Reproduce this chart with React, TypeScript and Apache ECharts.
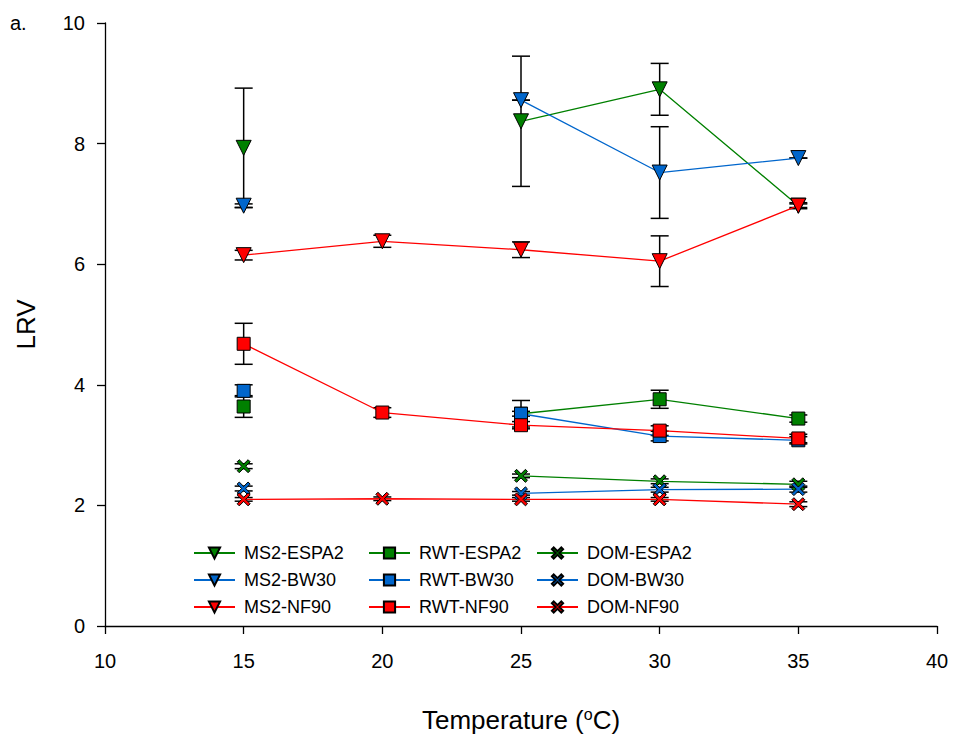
import React, { useEffect, useRef } from "react";
import * as echarts from "echarts";

const temps = [15, 20, 25, 30, 35];
const ms2Espa2 = [7.93, null, 8.37, 8.9, 6.97];
const ms2Espa2Err = [0.99, null, 1.08, 0.43, 0.03];
const ms2Bw30 = [6.97, null, 8.72, 7.52, 7.76];
const ms2Bw30Err = [0.03, null, 0.0, 0.76, 0.0];
const ms2Nf90 = [6.15, 6.38, 6.24, 6.05, 6.97];
const ms2Nf90Err = [0.08, 0.1, 0.13, 0.42, 0.05];
const rwtEspa2 = [3.64, null, 3.52, 3.76, 3.44];
const rwtEspa2Err = [0.18, null, 0.04, 0.15, 0.06];
const rwtBw30 = [3.9, null, 3.52, 3.15, 3.08];
const rwtBw30Err = [0.1, null, 0.22, 0.08, 0.06];
const rwtNf90 = [4.68, 3.54, 3.33, 3.24, 3.11];
const rwtNf90Err = [0.34, 0.08, 0.06, 0.08, 0.07];
const domEspa2 = [2.65, null, 2.49, 2.4, 2.35];
const domEspa2Err = [0.04, null, 0.03, 0.04, 0.05];
const domBw30 = [2.28, null, 2.2, 2.26, 2.27];
const domBw30Err = [0.04, null, 0.03, 0.04, 0.05];
const domNf90 = [2.1, 2.11, 2.1, 2.1, 2.02];
const domNf90Err = [0.03, 0.03, 0.03, 0.03, 0.04];

const xTicks = [10, 15, 20, 25, 30, 35, 40];
const yTicks = [0, 2, 4, 6, 8, 10];

const GREEN = "#008000";
const BLUE = "#0066cc";
const RED = "#ff0000";

const X_PATH =
  "path://M0,1.6 L1.6,0 L5,3.4 L8.4,0 L10,1.6 L6.6,5 L10,8.4 L8.4,10 L5,6.6 L1.6,10 L0,8.4 L3.4,5 Z";

const seriesDefs = [
  { name: "MS2-ESPA2", v: ms2Espa2, e: ms2Espa2Err, c: GREEN, sym: "triangle", legend: 0 },
  { name: "MS2-BW30", v: ms2Bw30, e: ms2Bw30Err, c: BLUE, sym: "triangle", legend: 0 },
  { name: "MS2-NF90", v: ms2Nf90, e: ms2Nf90Err, c: RED, sym: "triangle", legend: 0 },
  { name: "RWT-ESPA2", v: rwtEspa2, e: rwtEspa2Err, c: GREEN, sym: "rect", legend: 1 },
  { name: "RWT-BW30", v: rwtBw30, e: rwtBw30Err, c: BLUE, sym: "rect", legend: 1 },
  { name: "RWT-NF90", v: rwtNf90, e: rwtNf90Err, c: RED, sym: "rect", legend: 1 },
  { name: "DOM-ESPA2", v: domEspa2, e: domEspa2Err, c: GREEN, sym: X_PATH, legend: 2 },
  { name: "DOM-BW30", v: domBw30, e: domBw30Err, c: BLUE, sym: X_PATH, legend: 2 },
  { name: "DOM-NF90", v: domNf90, e: domNf90Err, c: RED, sym: X_PATH, legend: 2 },
];

export default function App() {
  const ref = useRef<HTMLDivElement>(null);
  useEffect(() => {
    if (!ref.current) return;
    const chart = echarts.init(ref.current, undefined, { renderer: "svg" });

    const errData: number[][] = [];
    seriesDefs.forEach((s) => {
      s.v.forEach((y, i) => {
        const e = s.e[i];
        if (y != null && e != null) errData.push([temps[i], y - e, y + e]);
      });
    });

    const lineSeries = seriesDefs.map((s) => ({
      name: s.name,
      type: "line",
      data: s.v.map((y, i) => [temps[i], y == null ? "-" : y]),
      connectNulls: false,
      symbol: s.sym,
      symbolSize: s.sym === "triangle" ? 15 : 13,
      symbolRotate: s.sym === "triangle" ? 180 : 0,
      showAllSymbol: true,
      lineStyle: { color: s.c, width: 1.3 },
      itemStyle: { color: s.c, borderColor: "#000", borderWidth: 1 },
      z: 3,
      emphasis: { disabled: true },
    }));

    const font = "'Liberation Sans', Arial, sans-serif";
    const legendCommon = {
      orient: "vertical",
      top: 539,
      itemWidth: 41,
      itemHeight: 14,
      itemGap: 9,
      textStyle: { fontSize: 18, color: "#000", fontFamily: font, padding: [0, 0, 0, 4] },
      selectedMode: false,
    };

    chart.setOption({
      animation: false,
      backgroundColor: "#fff",
      grid: { left: 105, right: 18, top: 23, bottom: 111 },
      xAxis: {
        type: "value",
        min: 10,
        max: 40,
        interval: 5,
        name: "Temperature ({sup|o}C)",
        nameLocation: "middle",
        nameGap: 80,
        nameTextStyle: {
          fontSize: 26,
          color: "#000",
          fontFamily: font,
          rich: {
            sup: { fontSize: 16, verticalAlign: "top", padding: [0, 0, 12, 0], color: "#000", fontFamily: font },
          },
        },
        axisLine: { show: true, lineStyle: { color: "#000", width: 1.3 } },
        axisTick: { show: true, inside: false, length: 8, lineStyle: { color: "#000", width: 1.3 } },
        axisLabel: { fontSize: 20, color: "#000", fontFamily: font, margin: 25, formatter: (v: number) => (xTicks.includes(v) ? String(v) : "") },
        splitLine: { show: false },
      },
      yAxis: {
        type: "value",
        min: 0,
        max: 10,
        interval: 2,
        name: "LRV",
        nameLocation: "middle",
        nameGap: 66,
        nameTextStyle: { fontSize: 26, color: "#000", fontFamily: font },
        axisLine: { show: true, lineStyle: { color: "#000", width: 1.3 } },
        axisTick: { show: true, inside: false, length: 8, lineStyle: { color: "#000", width: 1.3 } },
        axisLabel: { fontSize: 20, color: "#000", fontFamily: font, margin: 20, formatter: (v: number) => (yTicks.includes(v) ? String(v) : "") },
        splitLine: { show: false },
      },
      legend: [0, 1, 2].map((k) => ({
        ...legendCommon,
        left: [188, 363, 531][k],
        data: seriesDefs.filter((s) => s.legend === k).map((s) => s.name),
      })),
      graphic: [
        { type: "text", left: 10, top: 13, style: { text: "a.", fontSize: 20, fill: "#000", fontFamily: font } },
      ],
      series: [
        {
          type: "custom",
          name: "err",
          z: 1,
          silent: true,
          data: errData,
          renderItem: (params: any, api: any) => {
            const x = api.value(0);
            const lo = api.coord([x, api.value(1)]);
            const hi = api.coord([x, api.value(2)]);
            const w = 9;
            const st = { stroke: "#000", lineWidth: 1.5 };
            return {
              type: "group",
              children: [
                { type: "line", shape: { x1: lo[0], y1: lo[1], x2: hi[0], y2: hi[1] }, style: st },
                { type: "line", shape: { x1: lo[0] - w, y1: lo[1], x2: lo[0] + w, y2: lo[1] }, style: st },
                { type: "line", shape: { x1: hi[0] - w, y1: hi[1], x2: hi[0] + w, y2: hi[1] }, style: st },
              ],
            };
          },
        },
        ...lineSeries,
      ],
    });
    return () => chart.dispose();
  }, []);
  return <div ref={ref} style={{ position: "fixed", left: 0, top: 0, width: 955, height: 738 }} />;
}
